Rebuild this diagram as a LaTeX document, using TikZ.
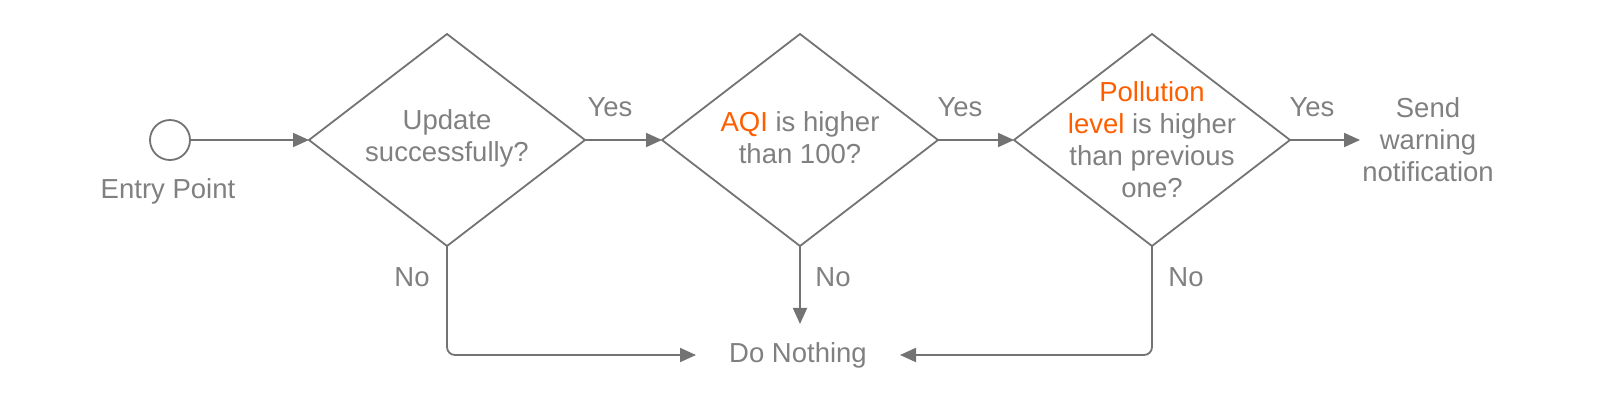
\documentclass[tikz,border=0pt]{standalone}
\usepackage{fontspec}
\setmainfont{Liberation Sans}
\usetikzlibrary{arrows.meta,shapes.geometric}
\definecolor{lc}{RGB}{115,115,115}
\definecolor{tc}{RGB}{128,128,128}
\definecolor{hl}{RGB}{255,94,0}
\begin{document}
\begin{tikzpicture}[x=1pt,y=-1pt,
  every node/.style={font=\fontsize{27.5}{32}\selectfont, text=tc},
  dia/.style={draw=lc, line width=1.8pt, diamond, minimum width=276pt, minimum height=212pt, inner sep=0pt, outer sep=0pt},
  lbl/.style={inner sep=0pt, align=center},
  arr/.style={draw=lc, line width=1.8pt, -{Triangle[length=16pt,width=14pt]}},
  ent/.style={draw=lc, line width=1.8pt, circle, minimum size=40pt, inner sep=0pt, outer sep=0pt}]
\useasboundingbox (0,0) rectangle (1600,400);
\node[ent] (e) at (170,140) {};
\node[lbl] (el) at (168,191) {Entry Point};
\node[dia] (d1) at (447,140) {};
\node[dia] (d2) at (800,140) {};
\node[dia] (d3) at (1152,140) {};
\node[lbl] (t1) at (447,138) {Update\\successfully?};
\node[lbl] (t2) at (800,138) {{\color{hl}AQI} is higher\\than 100?};
\node[lbl] (t3) at (1152,140) {{\color{hl}Pollution}\\{\color{hl}level} is higher\\than previous\\one?};
\node[lbl, inner xsep=2pt] (s) at (1428,140) {Send\\warning\\notification};
\node[lbl, inner xsep=33pt, inner ysep=18pt] (dn) at (798,355) {Do Nothing};
\node[lbl] (y1) at (610,107) {Yes};
\node[lbl] (y2) at (960,107) {Yes};
\node[lbl] (y3) at (1312,107) {Yes};
\node[lbl] (n1) at (412,277) {No};
\node[lbl] (n2) at (833,277) {No};
\node[lbl] (n3) at (1186,277) {No};
\draw[arr] (e) -- (d1.west);
\draw[arr] (d1.east) -- (d2.west);
\draw[arr] (d2.east) -- (d3.west);
\draw[arr] (d3.east) -- (s.west);
\draw[arr] (d2.south) -- (d2.south |- dn.north);
\draw[arr, rounded corners=8pt] (d1.south) |- (dn.west);
\draw[arr, rounded corners=8pt] (d3.south) |- (dn.east);
\end{tikzpicture}
\end{document}
